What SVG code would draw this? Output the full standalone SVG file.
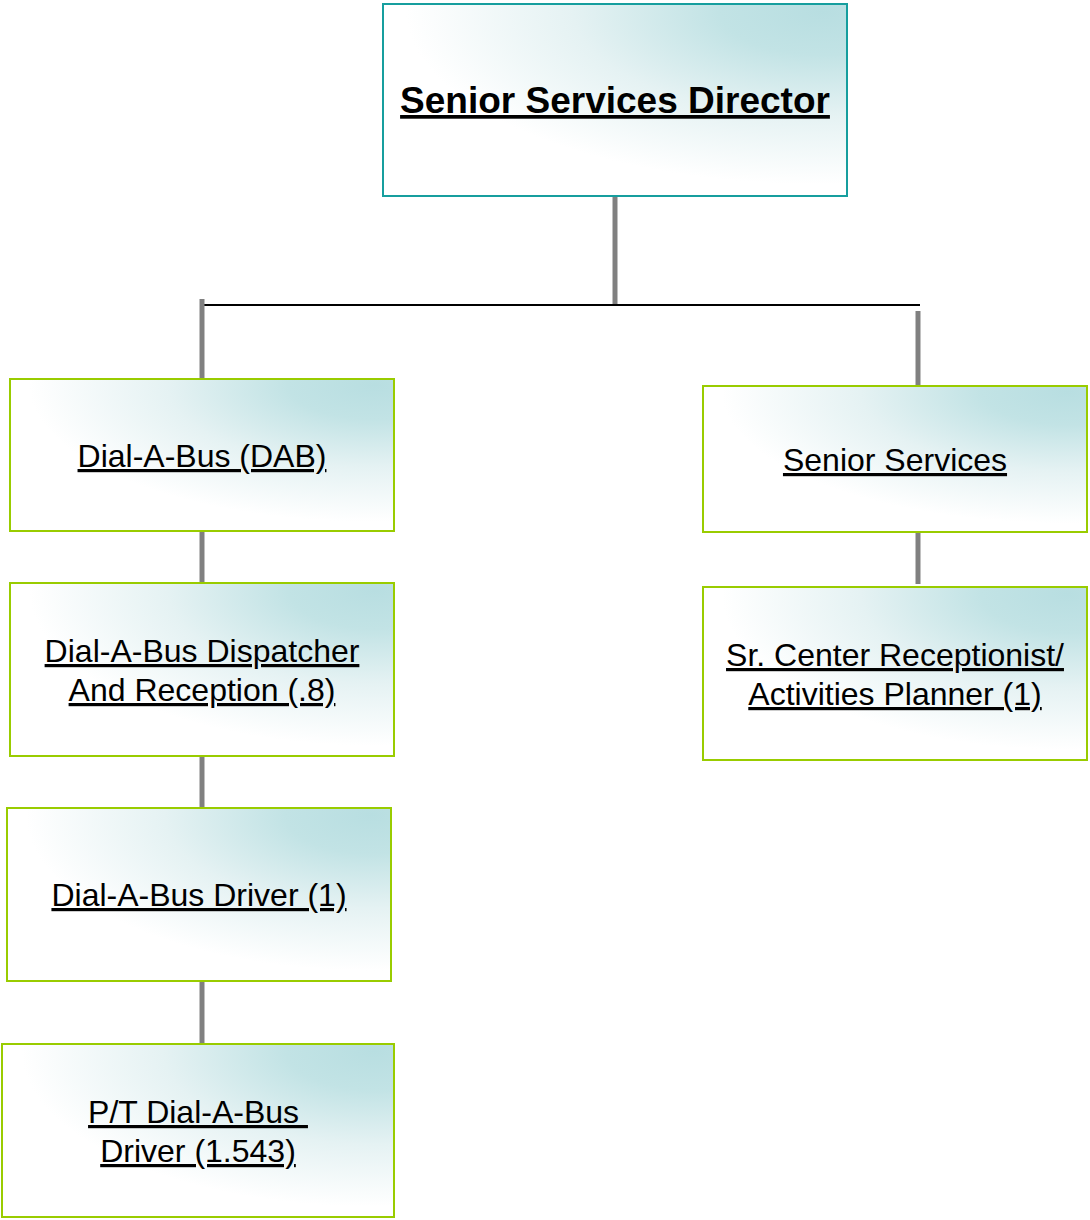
<svg xmlns="http://www.w3.org/2000/svg" width="1090" height="1220" viewBox="0 0 1090 1220">
<defs>
<radialGradient id="g" cx="0.95" cy="0.04" r="0.9" gradientUnits="objectBoundingBox">
<stop offset="0" stop-color="#b8dee1"/>
<stop offset="0.25" stop-color="#c2e3e5"/>
<stop offset="0.6" stop-color="#e5f2f3"/>
<stop offset="1" stop-color="#ffffff"/>
</radialGradient>
<style>
.box{fill:url(#g);stroke:#99cc00;stroke-width:2}
.top{fill:url(#g);stroke:#169e9e;stroke-width:2}
.conn{stroke:#808080;stroke-width:5;fill:none}
.bar{stroke:#000;stroke-width:2;fill:none}
text{font-family:"Liberation Sans",Arial,sans-serif;font-size:32px;fill:#000;text-anchor:middle;text-decoration:underline;text-decoration-skip-ink:none;white-space:pre}
.title{font-size:37px;font-weight:bold}
</style>
</defs>
<g id="connectors">
<line class="conn" x1="615" y1="196" x2="615" y2="305"/>
<line class="bar" x1="202" y1="305" x2="920" y2="305"/>
<line class="conn" x1="202" y1="299" x2="202" y2="379"/>
<line class="conn" x1="918" y1="311" x2="918" y2="386"/>
<line class="conn" x1="202" y1="531" x2="202" y2="583"/>
<line class="conn" x1="202" y1="756" x2="202" y2="808"/>
<line class="conn" x1="202" y1="981" x2="202" y2="1044"/>
<line class="conn" x1="918" y1="532" x2="918" y2="584"/>
</g>
<g id="director">
<rect class="top" x="383" y="4" width="464" height="192"/>
<text class="title" x="615" y="113">Senior Services Director</text>
</g>
<g id="dab">
<rect class="box" x="10" y="379" width="384" height="152"/>
<text x="202" y="467">Dial-A-Bus (DAB)</text>
</g>
<g id="dispatcher">
<rect class="box" x="10" y="583" width="384" height="173"/>
<text x="202" y="662">Dial-A-Bus Dispatcher</text>
<text x="202" y="701">And Reception (.8)</text>
</g>
<g id="driver">
<rect class="box" x="7" y="808" width="384" height="173"/>
<text x="199" y="906">Dial-A-Bus Driver (1)</text>
</g>
<g id="ptdriver">
<rect class="box" x="2" y="1044" width="392" height="173"/>
<text x="198" y="1123">P/T Dial-A-Bus </text>
<text x="198" y="1162">Driver (1.543)</text>
</g>
<g id="senior-services">
<rect class="box" x="703" y="386" width="384" height="146"/>
<text x="895" y="471">Senior Services</text>
</g>
<g id="receptionist">
<rect class="box" x="703" y="587" width="384" height="173"/>
<text x="895" y="666">Sr. Center Receptionist/</text>
<text x="895" y="705">Activities Planner (1)</text>
</g>
</svg>
